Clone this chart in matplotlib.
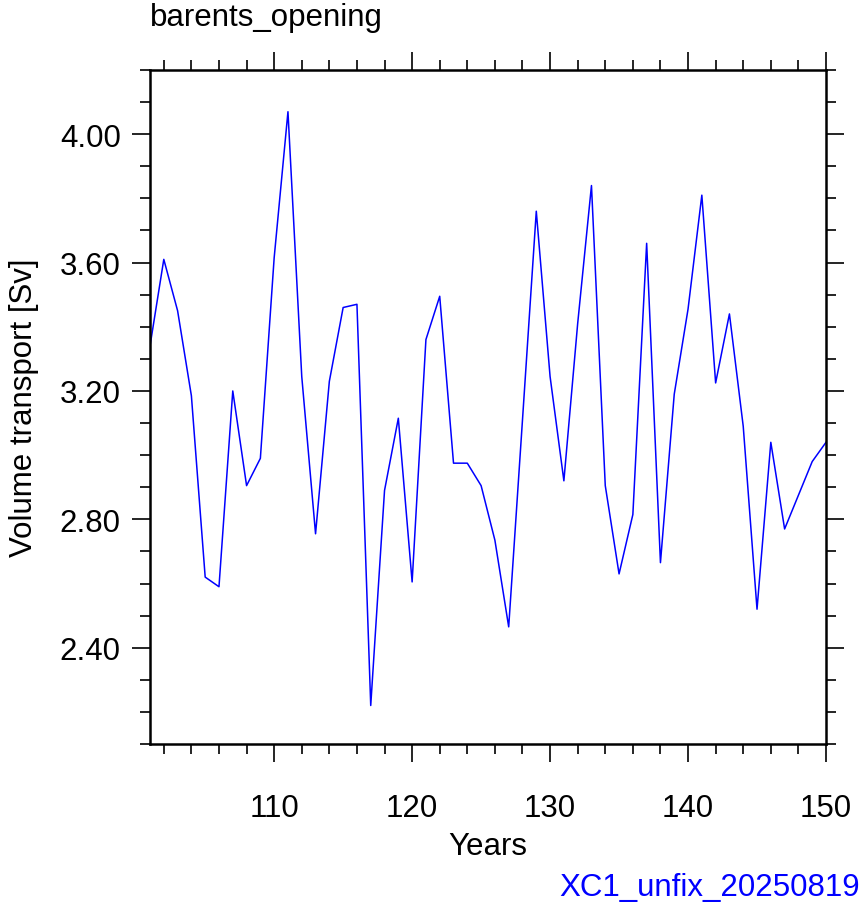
import numpy as np
import matplotlib
matplotlib.use("Agg")
import matplotlib.pyplot as plt
from matplotlib.ticker import MultipleLocator, FormatStrFormatter

plt.rcParams['font.family'] = ['Liberation Sans', 'DejaVu Sans']

# Donnees
years = list(range(101, 151))
transport = [3.34, 3.61, 3.45, 3.185, 2.62, 2.59, 3.20, 2.905, 2.99, 3.615,
             4.07, 3.245, 2.755, 3.23, 3.46, 3.47, 2.22, 2.89, 3.115, 2.605,
             3.36, 3.495, 2.975, 2.975, 2.905, 2.735, 2.465, 3.11, 3.76, 3.245,
             2.92, 3.41, 3.84, 2.905, 2.63, 2.815, 3.66, 2.665, 3.19, 3.455,
             3.81, 3.225, 3.44, 3.09, 2.52, 3.04, 2.77, 2.875, 2.98, 3.04]

title = "barents_opening"
case_name = "XC1_unfix_20250819"

fs = 22.5

fig = plt.figure(figsize=(8.65, 9.12), dpi=100)
ax = fig.add_axes([150/865, 1 - 745/912, 676/865, 674/912])

ax.plot(years, transport, color='#0000ff', linewidth=1.1)

ax.set_xlim(101, 150)
ax.set_ylim(2.1, 4.2)

ax.xaxis.set_major_locator(MultipleLocator(10))
ax.xaxis.set_minor_locator(MultipleLocator(2))
ax.yaxis.set_major_locator(MultipleLocator(0.4))
ax.yaxis.set_minor_locator(MultipleLocator(0.1))
ax.yaxis.set_major_formatter(FormatStrFormatter('%.2f'))

for s in ax.spines.values():
    s.set_linewidth(1.8)

ax.tick_params(which='both', direction='out', top=True, right=True,
               labeltop=False, labelright=False, labelsize=fs, width=1.2)
ax.tick_params(which='major', length=13)
ax.tick_params(which='minor', length=7.5)
ax.tick_params(axis='x', which='major', pad=22)
ax.tick_params(axis='y', which='major', pad=8)

ax.set_xlabel("Years", fontsize=fs, labelpad=6)
ax.set_ylabel("Volume transport [Sv]", fontsize=fs, labelpad=15)

fig.text(150/865, 1 - 18/912, title, fontsize=fs, ha='left', va='center')
fig.text(860/865, 1 - 888/912, case_name, fontsize=fs, color='#0000ff',
         ha='right', va='center')

fig.savefig("out.png", dpi=100)
